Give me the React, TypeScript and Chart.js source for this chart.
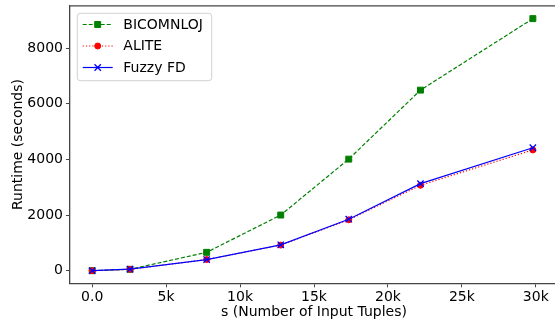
import React, { useEffect, useRef } from "react";
import { Chart, registerables } from "chart.js";

Chart.register(...registerables);

const xValues = [0, 2560, 7740, 12750, 17350, 22200, 29800];
const bicomnlojValues = [0, 50, 660, 2000, 4010, 6490, 9060];
const aliteValues = [0, 50, 400, 920, 1830, 3070, 4340];
const fuzzyValues = [0, 55, 400, 930, 1850, 3130, 4420];
const seriesLabels = ["BICOMNLOJ", "ALITE", "Fuzzy FD"];
const xTickValues = [0, 5000, 10000, 15000, 20000, 25000, 30000];
const yTickValues = [0, 2000, 4000, 6000, 8000];

const FONT = "'DejaVu Sans', sans-serif";
const CANVAS_W = 600;
const CANVAS_H = 323;

function toPoints(xs: number[], ys: number[]) {
  return xs.map((x, i) => ({ x, y: ys[i] }));
}

function drawMarker(ctx: CanvasRenderingContext2D, style: string, x: number, y: number, r: number, color: string, lw: number) {
  ctx.save();
  ctx.fillStyle = color;
  ctx.strokeStyle = color;
  ctx.lineWidth = lw;
  ctx.setLineDash([]);
  ctx.beginPath();
  if (style === "rect") {
    const s = Math.SQRT1_2 * r;
    ctx.rect(x - s, y - s, 2 * s, 2 * s);
    ctx.fill();
    ctx.stroke();
  } else if (style === "circle") {
    ctx.arc(x, y, r, 0, Math.PI * 2);
    ctx.fill();
    ctx.stroke();
  } else {
    const o = Math.SQRT1_2 * r;
    ctx.moveTo(x - o, y - o);
    ctx.lineTo(x + o, y + o);
    ctx.moveTo(x - o, y + o);
    ctx.lineTo(x + o, y - o);
    ctx.stroke();
  }
  ctx.restore();
}

const framePlugin = {
  id: "framePlugin",
  afterDraw(chart: any) {
    const ctx: CanvasRenderingContext2D = chart.ctx;
    const a = chart.chartArea;
    ctx.save();
    // top spine
    ctx.strokeStyle = "#444";
    ctx.lineWidth = 1.3;
    ctx.beginPath();
    ctx.moveTo(a.left, a.top);
    ctx.lineTo(a.right, a.top);
    ctx.stroke();

    // legend box
    const bx = 77.3, by = 13.3, bw = 134.4, bh = 67.4, rr = 3;
    ctx.beginPath();
    ctx.moveTo(bx + rr, by);
    ctx.lineTo(bx + bw - rr, by);
    ctx.arcTo(bx + bw, by, bx + bw, by + rr, rr);
    ctx.lineTo(bx + bw, by + bh - rr);
    ctx.arcTo(bx + bw, by + bh, bx + bw - rr, by + bh, rr);
    ctx.lineTo(bx + rr, by + bh);
    ctx.arcTo(bx, by + bh, bx, by + bh - rr, rr);
    ctx.lineTo(bx, by + rr);
    ctx.arcTo(bx, by, bx + rr, by, rr);
    ctx.closePath();
    ctx.fillStyle = "rgba(255,255,255,0.8)";
    ctx.fill();
    ctx.strokeStyle = "#d0d0d0";
    ctx.lineWidth = 1;
    ctx.stroke();

    const rows = [24.5, 46, 67.5];
    const datasets = chart.data.datasets;
    datasets.forEach((ds: any, i: number) => {
      const y = rows[i];
      ctx.save();
      ctx.strokeStyle = ds.borderColor;
      ctx.lineWidth = ds.borderWidth;
      ctx.setLineDash(ds.borderDash || []);
      ctx.beginPath();
      ctx.moveTo(82.7, y);
      ctx.lineTo(112.7, y);
      ctx.stroke();
      ctx.restore();
      drawMarker(ctx, ds.pointStyle, 97.7, y, ds.pointRadius, ds.borderColor, ds.pointBorderWidth);
      ctx.fillStyle = "#000";
      ctx.font = `14px ${FONT}`;
      ctx.textBaseline = "middle";
      ctx.textAlign = "left";
      ctx.fillText(ds.label, 123.3, y + 0.5);
    });
    ctx.restore();
  },
};

function zeroPad(s: any) {
  s.paddingTop = 0;
  s.paddingBottom = 0;
  s.paddingLeft = 0;
  s.paddingRight = 0;
}

export default function App() {
  const ref = useRef<HTMLCanvasElement | null>(null);

  useEffect(() => {
    document.documentElement.style.overflow = "hidden";
    document.body.style.margin = "0";
    document.body.style.overflow = "hidden";
    const canvas = ref.current;
    if (!canvas) return;
    Chart.defaults.font.family = FONT;
    Chart.defaults.color = "#000";

    const chart = new Chart(canvas, {
      type: "line",
      data: {
        datasets: [
          {
            label: seriesLabels[0],
            data: toPoints(xValues, bicomnlojValues),
            borderColor: "#008000",
            backgroundColor: "#008000",
            borderWidth: 1.2,
            borderDash: [4, 2],
            pointStyle: "rect",
            pointRadius: 4.2,
            pointBorderWidth: 1,
            pointBackgroundColor: "#008000",
            pointBorderColor: "#008000",
            order: 2,
          },
          {
            label: seriesLabels[1],
            data: toPoints(xValues, aliteValues),
            borderColor: "#ff0000",
            backgroundColor: "#ff0000",
            borderWidth: 1.2,
            borderDash: [1.2, 2],
            pointStyle: "circle",
            pointRadius: 3,
            pointBorderWidth: 1,
            pointBackgroundColor: "#ff0000",
            pointBorderColor: "#ff0000",
            order: 1,
          },
          {
            label: seriesLabels[2],
            data: toPoints(xValues, fuzzyValues),
            borderColor: "#0000ff",
            backgroundColor: "#0000ff",
            borderWidth: 1.2,
            pointStyle: "crossRot",
            pointRadius: 4.5,
            pointBorderWidth: 1.3,
            pointBackgroundColor: "#0000ff",
            pointBorderColor: "#0000ff",
            order: 0,
          },
        ] as any,
      },
      options: {
        responsive: false,
        devicePixelRatio: 1,
        animation: false,
        layout: { padding: { top: 5.3, left: 0, right: CANVAS_W - 558, bottom: 0 } },
        plugins: { legend: { display: false }, tooltip: { enabled: false } },
        scales: {
          x: {
            type: "linear",
            min: -1500,
            max: 31500,
            afterFit: (s: any) => {
              s.height = 39.7;
              zeroPad(s);
            },
            afterBuildTicks: (s: any) => {
              s.ticks = xTickValues.map((v) => ({ value: v }));
            },
            ticks: {
              font: { size: 14, family: FONT },
              color: "#000",
              padding: 2,
              maxRotation: 0,
              autoSkip: false,
              callback: (v: any) => (Number(v) === 0 ? "0.0" : `${Number(v) / 1000}k`),
            },
            grid: { drawOnChartArea: false, tickLength: 4, color: "#444", tickWidth: 1 },
            border: { color: "#444", width: 1.3 },
            title: {
              display: true,
              text: "s (Number of Input Tuples)",
              font: { size: 14, family: FONT },
              color: "#000",
              padding: { top: 0, bottom: 2.6 },
            },
          },
          y: {
            type: "linear",
            min: -453,
            max: 9521,
            afterFit: (s: any) => {
              s.width = 70;
              zeroPad(s);
            },
            afterBuildTicks: (s: any) => {
              s.ticks = yTickValues.map((v) => ({ value: v }));
            },
            ticks: {
              font: { size: 14, family: FONT },
              color: "#000",
              padding: 3,
              callback: (v: any) => `${v}`,
            },
            grid: { drawOnChartArea: false, tickLength: 4, color: "#444", tickWidth: 1 },
            border: { color: "#444", width: 1.3 },
            title: {
              display: true,
              text: "Runtime (seconds)",
              font: { size: 14, family: FONT },
              color: "#000",
              padding: { top: 9.6, bottom: 0 },
            },
          },
        },
      } as any,
      plugins: [framePlugin],
    });
    return () => chart.destroy();
  }, []);

  return (
    <div style={{ position: "fixed", left: 0, top: 0, width: 555, height: 323, overflow: "hidden" }}>
      <canvas ref={ref} width={CANVAS_W} height={CANVAS_H} style={{ width: CANVAS_W, height: CANVAS_H, display: "block" }} />
    </div>
  );
}
